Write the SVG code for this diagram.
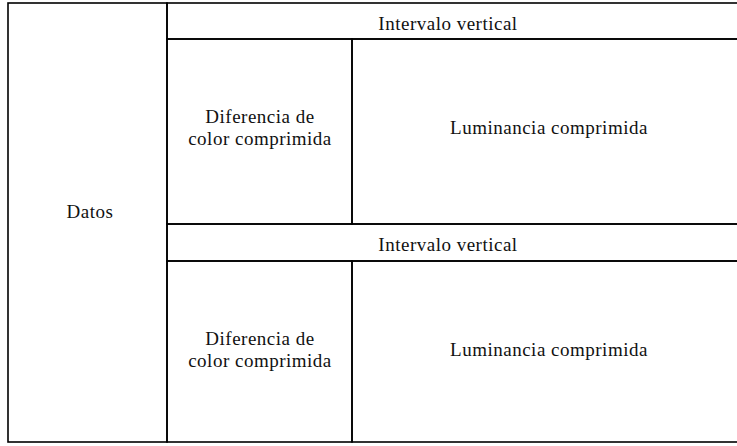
<svg xmlns="http://www.w3.org/2000/svg" width="737" height="446" viewBox="0 0 737 446">
<style>
.cell{fill:none;stroke:#000;stroke-width:1.6}
.t{font-family:'Liberation Serif','DejaVu Serif',serif;font-size:19px;letter-spacing:0.5px;fill:#111;text-anchor:middle}
</style>
<rect width="737" height="446" fill="#fff"/>
<g id="datos"><rect class="cell" x="8" y="3" width="159" height="439"/><text class="t" x="90" y="218">Datos</text></g>
<g id="intervalo1"><rect class="cell" x="167" y="3" width="573" height="36"/><text class="t" x="448" y="30">Intervalo vertical</text></g>
<g id="croma1"><rect class="cell" x="167" y="39" width="185" height="185"/><text class="t" x="260" y="123">Diferencia de</text><text class="t" x="260" y="145">color comprimida</text></g>
<g id="luma1"><rect class="cell" x="352" y="39" width="388" height="185"/><text class="t" x="549" y="134">Luminancia comprimida</text></g>
<g id="intervalo2"><rect class="cell" x="167" y="224" width="573" height="37"/><text class="t" x="448" y="251">Intervalo vertical</text></g>
<g id="croma2"><rect class="cell" x="167" y="261" width="185" height="181"/><text class="t" x="260" y="345">Diferencia de</text><text class="t" x="260" y="367">color comprimida</text></g>
<g id="luma2"><rect class="cell" x="352" y="261" width="388" height="181"/><text class="t" x="549" y="356">Luminancia comprimida</text></g>
<g id="connectors"></g>
</svg>
